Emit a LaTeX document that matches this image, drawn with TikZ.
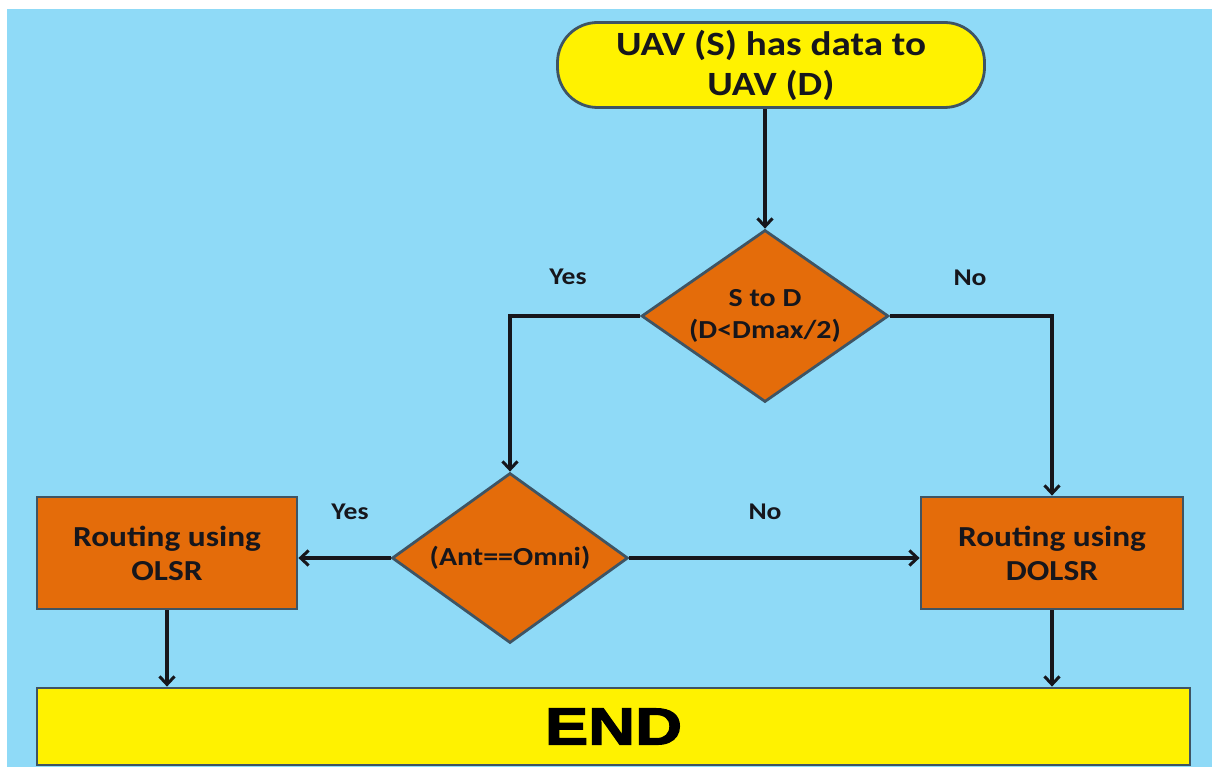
\documentclass[tikz,border=0pt]{standalone}
\usepackage{fontspec}
\usepackage{tikz}
\usetikzlibrary{positioning}
\usetikzlibrary{calc}
\usetikzlibrary{arrows.meta}
\usetikzlibrary{shapes.geometric}

\newfontfamily\flowfont[FakeStretch=1.15]{Carlito}
\newfontfamily\endfont[FakeStretch=1.25,FakeBold=2.5]{Liberation Sans}

\definecolor{skyblue}{RGB}{143,218,247}
\definecolor{boxorange}{RGB}{228,108,10}
\definecolor{outline}{RGB}{62,84,100}
\definecolor{ink}{RGB}{22,22,28}

\tikzset{
  terminal/.style={draw=outline, line width=2.8pt, fill=yellow, rounded corners=40pt,
    minimum width=427pt, minimum height=85pt, align=center, text=ink,
    font=\flowfont\bfseries\fontsize{34}{40}\selectfont},
  decision/.style={diamond, aspect=1.42, draw=outline, line width=2.8pt, fill=boxorange, inner sep=0pt,
    align=center, text=ink, font=\flowfont\bfseries\fontsize{26}{32}\selectfont},
  process/.style={draw=outline, line width=2.8pt, fill=boxorange,
    minimum width=260pt, minimum height=112pt, align=center, text=ink,
    font=\flowfont\bfseries\fontsize{29}{34}\selectfont},
  endbox/.style={draw=outline, line width=2.8pt, fill=yellow,
    minimum width=1153pt, minimum height=77pt, text=black,
    font=\endfont\bfseries\fontsize{52}{56}\selectfont},
  flow/.style={draw=ink, line width=3.2pt, -{Straight Barb[length=8pt,width=15pt,line width=3pt]}},
  answer/.style={text=ink, font=\flowfont\bfseries\fontsize{24}{28}\selectfont},
}

\begin{document}
\begin{tikzpicture}[x=1pt,y=-1pt]
\useasboundingbox (0,0) rectangle (1212,767);
\fill[skyblue] (7,9) rectangle (1212,767);% Backdrop

\node[terminal] (start) at (771,65) {UAV (S) has data to\\UAV (D)};% Top Terminal
\node[decision, minimum width=247pt, minimum height=172pt] (range) at (765,316) {S to D\\(D<Dmax/2)};
\node[decision, minimum width=236pt, minimum height=170pt] (antenna) at (510,558) {(Ant==Omni)};
\node[process] (olsr) at (167,553) {Routing using\\OLSR};
\node[process, minimum width=262pt] (dolsr) at (1052,553) {Routing using\\DOLSR};
\node[endbox] (finish) at (613.5,726.5) {END};% Bottom Bar

\node[answer] (yesrange) at (568,277) {Yes};
\node[answer] (norange) at (970,278) {No};
\node[answer] (yesant) at (350,512) {Yes};
\node[answer] (noant) at (765,512) {No};

\draw[flow] (start.south -| range.north) -- (range.north);
\draw[flow] (range.west) -| (antenna.north);
\draw[flow] (range.east) -| (dolsr.north);
\draw[flow] (antenna.west) -- (antenna.west -| olsr.east);
\draw[flow] (antenna.east) -- (antenna.east -| dolsr.west);
\draw[flow] (olsr.south) -- (olsr.south |- finish.north);
\draw[flow] (dolsr.south) -- (dolsr.south |- finish.north);
\end{tikzpicture}
\end{document}
